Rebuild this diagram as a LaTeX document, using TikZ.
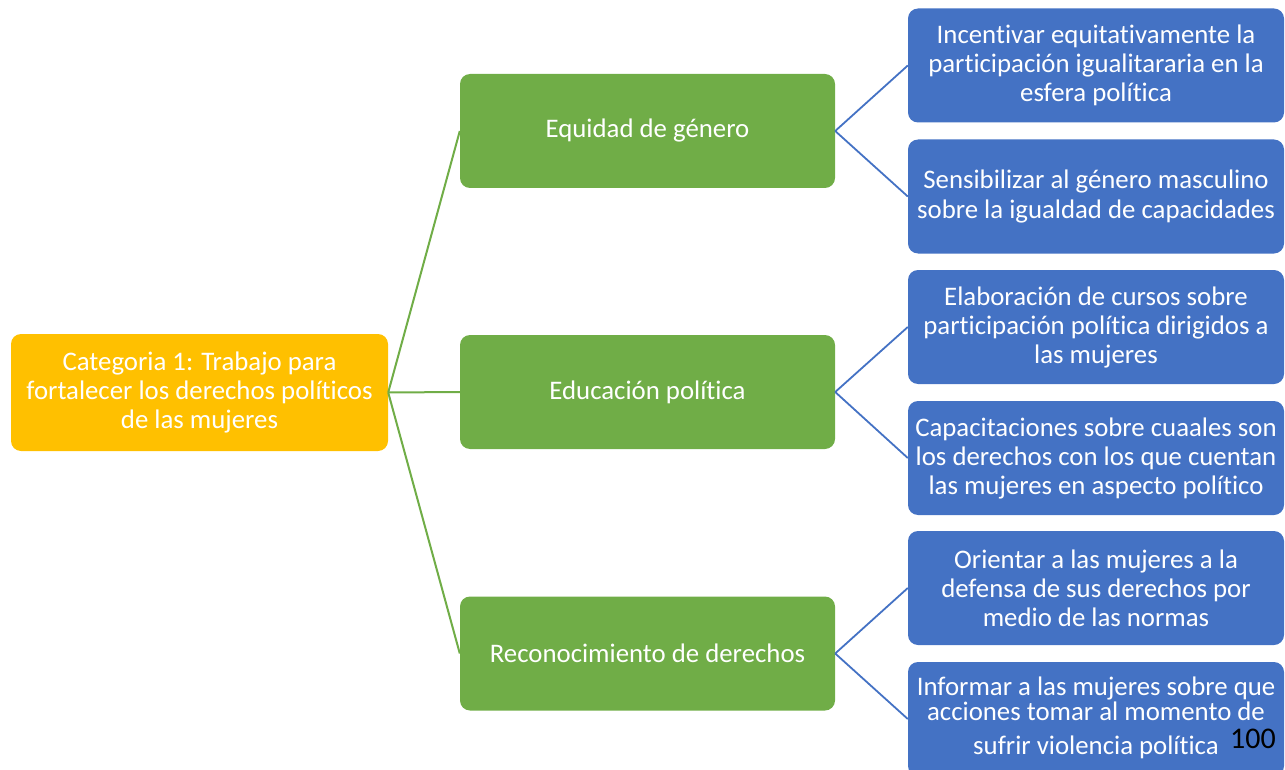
\documentclass[tikz,border=0pt]{standalone}
\usepackage{fontspec}
\setmainfont[Ligatures=NoCommon]{Carlito}
\definecolor{rootc}{HTML}{FFC000}
\definecolor{greenc}{HTML}{70AD47}
\definecolor{bluec}{HTML}{4472C4}
\begin{document}
\begin{tikzpicture}[x=1pt,y=-1pt,
  box/.style={rounded corners=10pt, text=white, align=center, inner sep=0pt,
    font=\fontsize{26.8}{29}\selectfont},
  rootbox/.style={box, fill=rootc, minimum width=377pt, minimum height=117pt},
  greenbox/.style={box, fill=greenc, minimum width=375pt, minimum height=114pt},
  bluebox/.style={box, fill=bluec, minimum width=376pt, minimum height=114pt},
  gline/.style={draw=greenc, line width=2pt},
  bline/.style={draw=bluec, line width=1.8pt}]
\useasboundingbox (0,0) rectangle (1285,770);
\begin{scope}
\clip (0,0) rectangle (1285,770);
\node[rootbox] (root) at (199.5,392.5) {Categoria 1: Trabajo para\\fortalecer los derechos políticos\\de las mujeres};
\node[greenbox] (g1) at (647.5,131) {Equidad de género};
\node[greenbox] (g2) at (647.5,392) {Educación política};
\node[greenbox] (g3) at (647.5,653.5) {Reconocimiento de derechos};
\node[bluebox] (b1) at (1096,65.5) {Incentivar equitativamente la\\participación igualitararia en la\\esfera política};
\node[bluebox] (b2) at (1096,196.5) {Sensibilizar al género masculino\\sobre la igualdad de capacidades};
\node[bluebox] (b3) at (1096,327) {Elaboración de cursos sobre\\participación política dirigidos a\\las mujeres};
\node[bluebox] (b4) at (1096,458) {Capacitaciones sobre cuaales son\\los derechos con los que cuentan\\las mujeres en aspecto político};
\node[bluebox] (b5) at (1096,588) {Orientar a las mujeres a la\\defensa de sus derechos por\\medio de las normas};
\node[bluebox] (b6) at (1096,719) {};
\node[box, font=\fontsize{26.8}{25}\selectfont] (b6t) at (1096,718) {Informar a las mujeres sobre que\\acciones tomar al momento de\\[9pt]sufrir violencia política};
\end{scope}
\draw[gline] (root.east) -- (g1.west);
\draw[gline] (root.east) -- (g2.west);
\draw[gline] (root.east) -- (g3.west);
\draw[bline] (g1.east) -- (b1.west);
\draw[bline] (g1.east) -- (b2.west);
\draw[bline] (g2.east) -- (b3.west);
\draw[bline] (g2.east) -- (b4.west);
\draw[bline] (g3.east) -- (b5.west);
\draw[bline] (g3.east) -- (b6.west);
\node[font=\fontsize{30}{32}\selectfont, text=black, inner sep=0pt] (pg) at (1253,739) {100};
\end{tikzpicture}
\end{document}
